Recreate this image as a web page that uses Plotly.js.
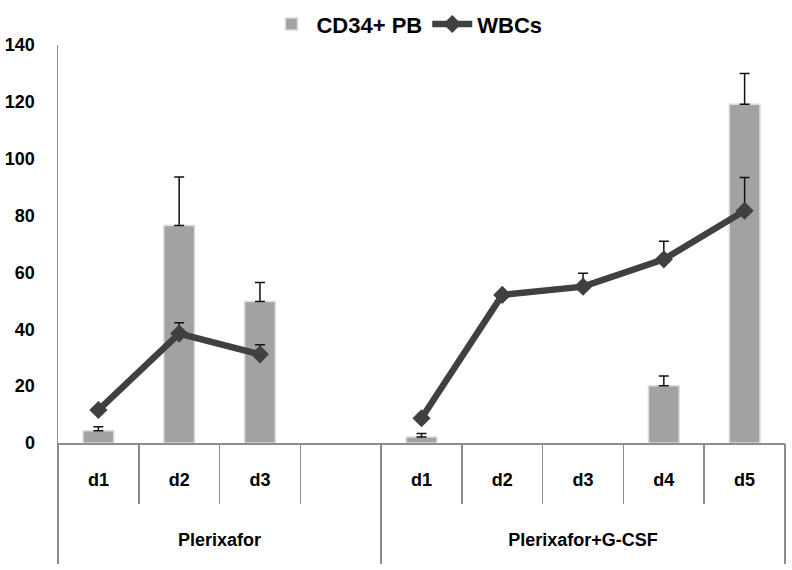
<!DOCTYPE html>
<html>
<head>
<meta charset="utf-8">
<script src="https://cdn.plot.ly/plotly-3.0.1.min.js"></script>
<style>html,body{margin:0;padding:0;background:#fff;}#chart{width:792px;height:570px;}</style>
</head>
<body>
<div id="chart"></div>
<script>
// ---- data ----
var groups = ["Plerixafor", "Plerixafor+G-CSF"];
var groupSizes = [4, 5];
var dayLabels = ["d1", "d2", "d3", "", "d1", "d2", "d3", "d4", "d5"];
var slotKeys = ["P-d1", "P-d2", "P-d3", "P-gap", "PG-d1", "PG-d2", "PG-d3", "PG-d4", "PG-d5"];
var cd34 = [4.3, 76.5, 49.8, null, 2.1, null, null, 20.1, 119.2];
var cd34Err = [1.4, 17.1, 6.7, null, 1.2, null, null, 3.5, 10.8];
var wbc = [11.6, 38.5, 31.2, null, 8.7, 52.1, 55.0, 64.6, 81.7];
var wbcErr = [0.8, 3.8, 3.4, null, 0.5, 0.5, 4.7, 6.4, 11.7];
var yTicks = [0, 20, 40, 60, 80, 100, 120, 140];

// ---- derived axis helpers (category index units) ----
var n = slotKeys.length;
var slotBounds = [];
for (var i = 0; i <= n; i++) slotBounds.push(i - 0.5);
var groupBounds = [-0.5], groupCenters = [], acc = 0;
groupSizes.forEach(function (s) {
  groupCenters.push(acc + (s - 1) / 2);
  acc += s;
  groupBounds.push(acc - 0.5);
});
var zeros = slotKeys.map(function () { return 0; });

var font = "Liberation Sans, Arial, sans-serif";
var axisGray = "#8c8c8c";

function helper(xa, xs) {
  // invisible trace so that an overlaying helper axis gets drawn
  return { type: "scatter", mode: "markers", xaxis: xa, yaxis: "y",
           x: xs, y: xs.map(function () { return 0; }),
           marker: { opacity: 0, size: 1 }, showlegend: false, hoverinfo: "skip" };
}

var traces = [
  {
    type: "bar", name: "CD34+ PB", x: slotKeys, y: cd34,
    marker: { color: "#a2a2a2", line: { color: "#dcdcdc", width: 1.5 } },
    error_y: { type: "data", symmetric: false, array: cd34Err, arrayminus: zeros,
               color: "#111", thickness: 1.5, width: 5 },
    hoverinfo: "y"
  },
  {
    type: "scatter", mode: "lines+markers", name: "WBCs", x: slotKeys, y: wbc,
    line: { color: "#404040", width: 6.5 },
    marker: { symbol: "diamond", size: 14, color: "#404040" },
    error_y: { type: "data", symmetric: false, array: wbcErr, arrayminus: zeros,
               color: "#111", thickness: 1.5, width: 5 },
    connectgaps: false
  },
  helper("x2", slotBounds),
  helper("x3", groupBounds),
  helper("x4", groupCenters)
];

var range = [-0.5, n - 0.5];
var layout = {
  width: 792, height: 570,
  margin: { l: 58, r: 7, t: 45, b: 127, autoexpand: false },
  paper_bgcolor: "#fff", plot_bgcolor: "#fff",
  font: { family: font, size: 18, color: "#000" },
  bargap: 0.62,
  showlegend: true,
  legend: {
    orientation: "h", x: 0.48, xanchor: "center", y: 1.105, yanchor: "top",
    font: { family: font, size: 22, color: "#000", weight: "bold" },
    itemwidth: 40, tracegroupgap: 0
  },
  xaxis: {
    type: "category", categoryarray: slotKeys, categoryorder: "array", range: range,
    tickmode: "array", tickvals: slotKeys, ticktext: dayLabels,
    ticks: "", ticklabelstandoff: 20,
    tickfont: { family: font, size: 18, color: "#000", weight: "bold" },
    showline: true, linecolor: axisGray, linewidth: 1.5,
    showgrid: false, zeroline: false, fixedrange: true
  },
  xaxis2: {
    overlaying: "x", anchor: "y", side: "bottom", range: range,
    tickmode: "array", tickvals: slotBounds, showticklabels: false,
    ticks: "outside", ticklen: 60, tickwidth: 1.5, tickcolor: axisGray,
    showline: false, showgrid: false, zeroline: false, fixedrange: true
  },
  xaxis3: {
    overlaying: "x", anchor: "y", side: "bottom", range: range,
    tickmode: "array", tickvals: groupBounds, showticklabels: false,
    ticks: "outside", ticklen: 120, tickwidth: 1.5, tickcolor: axisGray,
    showline: false, showgrid: false, zeroline: false, fixedrange: true
  },
  xaxis4: {
    overlaying: "x", anchor: "y", side: "bottom", range: range,
    tickmode: "array", tickvals: groupCenters, ticktext: groups,
    ticks: "", ticklabelstandoff: 84,
    tickfont: { family: font, size: 18, color: "#000", weight: "bold" },
    showline: false, showgrid: false, zeroline: false, fixedrange: true
  },
  yaxis: {
    range: [0, 140], tickmode: "array", tickvals: yTicks,
    ticks: "", ticklabelstandoff: 18,
    tickfont: { family: font, size: 18, color: "#000", weight: "bold" },
    showline: true, linecolor: axisGray, linewidth: 1.5,
    showgrid: false, zeroline: false, fixedrange: true
  }
};

Plotly.newPlot("chart", traces, layout, { displayModeBar: false, staticPlot: true });
</script>
</body>
</html>
